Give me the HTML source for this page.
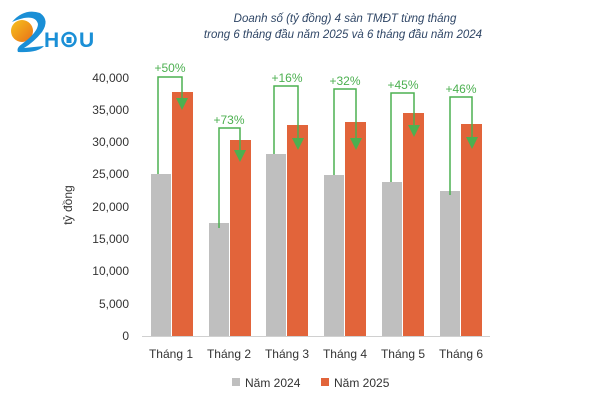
<!DOCTYPE html>
<html><head><meta charset="utf-8"><style>
body{margin:0;background:#fff;width:600px;height:400px;overflow:hidden}
text{font-family:"Liberation Sans",sans-serif}
</style></head><body>
<svg width="600" height="400" viewBox="0 0 600 400" xmlns="http://www.w3.org/2000/svg">
<defs>
<linearGradient id="og" x1="0" y1="0" x2="1" y2="1"><stop offset="0" stop-color="#f7c21b"/><stop offset="1" stop-color="#e8701a"/></linearGradient>
</defs>
<!-- logo -->
<circle cx="22" cy="31" r="11" fill="url(#og)"/>
<path d="M12,22 Q24,8 40,13 Q50,20 42,32 Q34,42 24,48 L44,46 Q38,53 18,52 Q16,48 22,44 Q38,32 38,24 Q36,16 24,18 Q16,20 12,22 Z" fill="#1a8fd6"/>
<text x="44" y="47" font-size="21" font-weight="bold" fill="#1a8fd6">H</text>
<circle cx="69" cy="39.5" r="6.5" fill="none" stroke="#1a8fd6" stroke-width="2.5"/>
<rect x="66.5" y="37" width="5" height="6" fill="#1a8fd6"/>
<text x="79" y="47" font-size="21" font-weight="bold" fill="#1a8fd6">U</text>
<!-- title -->
<text x="345" y="22" font-size="11.5" font-style="italic" fill="#2f4666" text-anchor="middle">Doanh số (tỷ đồng) 4 sàn TMĐT từng tháng</text>
<text x="343" y="38" font-size="11.5" font-style="italic" fill="#2f4666" text-anchor="middle">trong 6 tháng đầu năm 2025 và 6 tháng đầu năm 2024</text>
<!-- y axis -->
<g font-size="12" fill="#333" text-anchor="end">
<text x="129" y="340">0</text><text x="129" y="308">5,000</text><text x="129" y="275">10,000</text><text x="129" y="243">15,000</text><text x="129" y="211">20,000</text><text x="129" y="178">25,000</text><text x="129" y="146">30,000</text><text x="129" y="114">35,000</text><text x="129" y="82">40,000</text>
</g>
<text transform="translate(72,205) rotate(-90)" font-size="12" fill="#333" text-anchor="middle">tỷ đồng</text>
<!-- bars -->
<g fill="#bfbfbf">
<rect x="151" y="174" width="20" height="162"/><rect x="209" y="223" width="20" height="113"/><rect x="266" y="154" width="20" height="182"/><rect x="324" y="175" width="20" height="161"/><rect x="382" y="182" width="20" height="154"/><rect x="440" y="191" width="20" height="145"/>
</g>
<g fill="#e2643a">
<rect x="172" y="92" width="21" height="244"/><rect x="230" y="140" width="21" height="196"/><rect x="287" y="125" width="21" height="211"/><rect x="345" y="122" width="21" height="214"/><rect x="403" y="113" width="21" height="223"/><rect x="461" y="124" width="21" height="212"/>
</g>
<line x1="142" y1="336.5" x2="490" y2="336.5" stroke="#d0d0d0"/>
<!-- connectors -->
<g fill="none" stroke="#4cb050" stroke-width="1.5">
<path d="M158,174 V77 H182 V100"/>
<path d="M219,228 V128 H240 V152"/>
<path d="M274,154 V86 H298 V140"/>
<path d="M334,175 V89 H356 V140"/>
<path d="M391,182 V93 H414 V127"/>
<path d="M450,195 V97 H472 V139"/>
</g>
<g fill="#4cb050">
<polygon points="176,98 188,98 182,110"/>
<polygon points="234,150 246,150 240,162"/>
<polygon points="292,138 304,138 298,150"/>
<polygon points="350,138 362,138 356,150"/>
<polygon points="408,125 420,125 414,137"/>
<polygon points="466,137 478,137 472,149"/>
</g>
<g font-size="12" fill="#4cb050" text-anchor="middle">
<text x="170" y="72">+50%</text><text x="229" y="124">+73%</text><text x="287" y="82">+16%</text><text x="345" y="85">+32%</text><text x="403" y="89">+45%</text><text x="461" y="93">+46%</text>
</g>
<!-- x labels -->
<g font-size="12" fill="#333" text-anchor="middle">
<text x="171" y="358">Tháng 1</text><text x="229" y="358">Tháng 2</text><text x="287" y="358">Tháng 3</text><text x="345" y="358">Tháng 4</text><text x="403" y="358">Tháng 5</text><text x="461" y="358">Tháng 6</text>
</g>
<!-- legend -->
<rect x="232" y="378" width="8" height="8" fill="#bfbfbf"/>
<text x="245" y="387" font-size="12" fill="#333">Năm 2024</text>
<rect x="321" y="378" width="8" height="8" fill="#e2643a"/>
<text x="334" y="387" font-size="12" fill="#333">Năm 2025</text>
</svg>
</body></html>
